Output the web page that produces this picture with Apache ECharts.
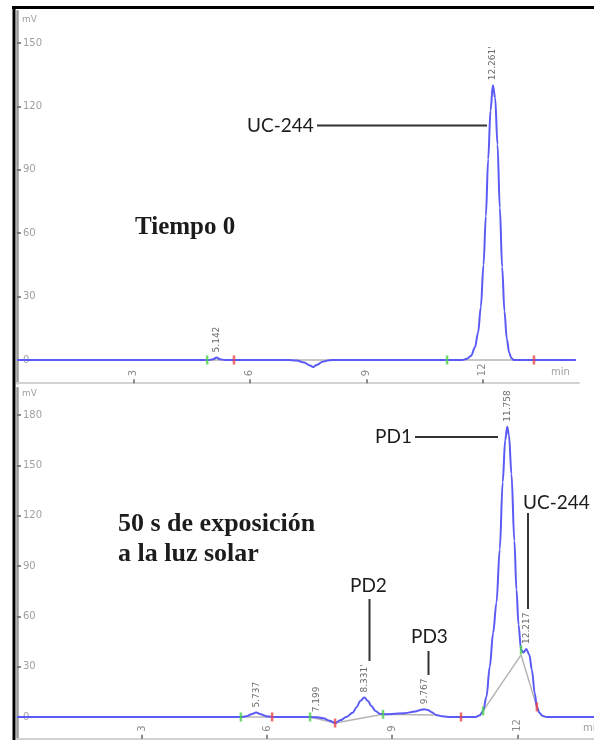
<!DOCTYPE html>
<html><head><meta charset="utf-8">
<script src="https://cdn.jsdelivr.net/npm/echarts@6/dist/echarts.min.js"></script>
<style>html,body{margin:0;padding:0;background:#fff}#c{width:594px;height:740px}</style>
</head><body><div id="c"></div>
<script>
// ---------- DATA (time in min, signal in mV) ----------
const topTrace = [
  [0,0],[4.95,0],[5.05,0.3],[5.142,1.2],[5.23,0.3],[5.35,0],
  [7.0,0],[7.2,-0.3],[7.4,-1.2],[7.55,-2.6],[7.63,-3.4],[7.72,-2.4],[7.88,-0.8],[8.05,-0.1],[8.2,0],
  [11.47,0],[11.6,0.6],[11.7,2],[11.8,6],[11.88,13],[11.95,25],[12.02,45],[12.08,68],[12.14,95],
  [12.2,118],[12.261,130],[12.32,124],[12.38,102],[12.44,72],[12.5,44],[12.56,23],[12.62,10],
  [12.68,3.5],[12.74,0.8],[12.8,0],[14.4,0]
];
const bottomTrace = [
  [0,0],[5.37,0],[5.5,0.4],[5.62,1.6],[5.737,2.6],[5.85,1.6],[5.97,0.5],[6.12,0],
  [7.03,0],[7.2,-0.2],[7.35,-0.8],[7.5,-2.2],[7.63,-3.6],[7.75,-2],[7.9,0],[8.05,2.5],[8.15,6],
  [8.23,9.5],[8.331,11.6],[8.42,9.5],[8.5,6.5],[8.6,3.5],[8.7,2],[8.78,1.6],
  [9.0,1.8],[9.3,2.3],[9.55,3.2],[9.7,4.3],[9.767,4.6],[9.85,4.2],[9.95,2.8],[10.05,1.2],[10.2,0.4],[10.4,0],
  [11.0,0],[11.1,1],[11.18,3.6],[11.26,12],[11.34,30],[11.42,50],[11.5,68],[11.58,100],[11.65,140],
  [11.71,165],[11.758,173],[11.8,168],[11.86,145],[11.93,105],[11.98,76],[12.03,55],[12.09,40],
  [12.15,38.5],[12.217,40.5],[12.29,37],[12.35,28],[12.42,14],[12.47,6],[12.53,2.5],[12.6,0.8],
  [12.7,0],[13.84,0]
];
const topPeakTimes = [5.142, 12.261];
const topPeakHeights = [1.2, 130];
const topPeakLabels = ['5.142', "12.261'"];
const bottomPeakTimes = [5.737, 7.199, 8.331, 9.767, 11.758, 12.217];
const bottomPeakHeights = [2.6, -0.2, 11.6, 4.6, 173, 40.5];
const bottomPeakLabels = ['5.737', '7.199', "8.331'", '9.767', '11.758', '12.217'];
const topStartMarks = [[4.9,0],[11.08,0]];
const topEndMarks = [[5.59,0],[13.32,0]];
const bottomStartMarks = [[5.37,0],[7.03,0],[8.78,1.6],[11.18,3.6],[12.09,40]];
const bottomEndMarks = [[6.12,0],[7.63,-3.6],[10.65,0],[12.47,6]];
const topBaselines = [
  [[4.9,0],[5.59,0]],
  [[7.0,0],[8.2,0]],
  [[11.08,0],[13.32,0]]
];
const bottomBaselines = [
  [[5.37,0],[6.12,0]],
  [[7.03,0],[7.63,-3.6],[8.78,1.6],[10.0,1.2]],
  [[11.18,3.6],[12.09,37],[12.47,6]]
];
const xTicks = [3, 6, 9, 12];
const topYTicks = [0, 30, 60, 90, 120, 150];
const bottomYTicks = [0, 30, 60, 90, 120, 150, 180];

// ---------- CHART ----------
const chart = echarts.init(document.getElementById('c'), null, {renderer:'canvas'});
const BLUE = '#5a5af5', GRAY = '#b4b4b4', GREEN = '#4ccf4c', RED = '#e84646';
const tickFont = {fontFamily:'DejaVu Sans', fontSize:10, color:'#a0a0a0'};

function xAx(idx, max) {
  return {
    type:'value', gridIndex:idx, min:0, max:max,
    axisLine:{show:true, onZero:false, lineStyle:{color:'#d2d2d2', width:2}},
    axisTick:{show:true, inside:true, length:4, customValues:xTicks, lineStyle:{color:'#666', width:1.5}},
    axisLabel:Object.assign({inside:true, customValues:xTicks, rotate:90, margin:7}, tickFont, {color:'#8a8a8a'}),
    splitLine:{show:false}
  };
}
function yAx(idx, min, max, ticks) {
  return {
    type:'value', gridIndex:idx, min:min, max:max,
    axisLine:{show:true, onZero:false, lineStyle:{color:'#9a9a9a', width:2.5}},
    axisTick:{show:true, inside:true, length:4, customValues:ticks, lineStyle:{color:'#666', width:1.5}},
    axisLabel:Object.assign({inside:true, customValues:ticks, margin:6}, tickFont),
    splitLine:{show:false}
  };
}
function traceSeries(idx, data) {
  return {type:'line', xAxisIndex:idx, yAxisIndex:idx, data:data, showSymbol:false, smooth:0.35,
    smoothMonotone:'x', lineStyle:{color:BLUE, width:2}, z:5, silent:true};
}
function baseSeries(idx, segs) {
  return segs.map(s => ({type:'line', xAxisIndex:idx, yAxisIndex:idx, data:s, showSymbol:false,
    lineStyle:{color:GRAY, width:1.5}, z:3, silent:true}));
}
function markSeries(idx, data, color) {
  return {type:'scatter', xAxisIndex:idx, yAxisIndex:idx, data:data, symbol:'rect',
    symbolSize:[2.5,9], itemStyle:{color:color}, z:7, silent:true};
}
function labelSeries(idx, times, heights, labels) {
  return {type:'scatter', xAxisIndex:idx, yAxisIndex:idx, symbolSize:0, z:8, silent:true,
    data: times.map((t,i) => ({value:[t, heights[i]], name:labels[i]})),
    label:{show:true, position:'top', distance:5, rotate:90, align:'left', verticalAlign:'middle',
      formatter:'{b}', fontFamily:'DejaVu Sans', fontSize:9, color:'#444'}};
}

const annFont = 'Lato';
const titleFont = 'Liberation Serif';
function txt(x, y, s, size, family, weight, align) {
  return {type:'text', x:x, y:y, z:20, style:{text:s, fontSize:size, fontFamily:family,
    fontWeight:weight||'normal', fill:'#1c1c1c', textAlign:align||'left', textVerticalAlign:'middle'}};
}
function seg(x1, y1, x2, y2, w, c) {
  return {type:'line', z:20, shape:{x1:x1, y1:y1, x2:x2, y2:y2}, style:{stroke:c||'#333', lineWidth:w||2}};
}

chart.setOption({
  animation:false,
  backgroundColor:'#fff',
  grid:[
    {left:17, top:11.3, width:562, height:371.9},
    {left:17, top:388.1, right:0, height:350.7}
  ],
  xAxis:[xAx(0, 14.48), xAx(1, 13.84)],
  yAxis:[yAx(0, -11, 165, topYTicks), yAx(1, -13, 196, bottomYTicks)],
  series:[].concat(
    baseSeries(0, topBaselines), baseSeries(1, bottomBaselines),
    [traceSeries(0, topTrace), traceSeries(1, bottomTrace),
     markSeries(0, topStartMarks, GREEN), markSeries(0, topEndMarks, RED),
     markSeries(1, bottomStartMarks, GREEN), markSeries(1, bottomEndMarks, RED),
     labelSeries(0, topPeakTimes, topPeakHeights, topPeakLabels),
     labelSeries(1, bottomPeakTimes, bottomPeakHeights, bottomPeakLabels)]
  ),
  graphic:[
    // frame
    seg(14, 6, 14, 740, 3, '#000'),
    seg(12, 7.5, 594, 7.5, 3, '#000'),
    // units
    {type:'text', x:22, y:20, z:20, style:{text:'mV', fontSize:9, fontFamily:'DejaVu Sans', fill:'#a0a0a0', textVerticalAlign:'middle'}},
    {type:'text', x:22, y:394, z:20, style:{text:'mV', fontSize:9, fontFamily:'DejaVu Sans', fill:'#a0a0a0', textVerticalAlign:'middle'}},
    {type:'text', x:551, y:372, z:20, style:{text:'min', fontSize:10, fontFamily:'DejaVu Sans', fill:'#a0a0a0', textVerticalAlign:'middle'}},
    {type:'text', x:583, y:728, z:20, style:{text:'min', fontSize:10, fontFamily:'DejaVu Sans', fill:'#a0a0a0', textVerticalAlign:'middle'}},
    // top annotations
    txt(247, 126, 'UC-244', 19, annFont),
    seg(317, 125.5, 487, 125.5, 2),
    txt(135, 228, 'Tiempo 0', 25, titleFont, 'bold'),
    // bottom annotations
    txt(118, 524, '50 s de exposición', 26, titleFont, 'bold'),
    txt(118, 554, 'a la luz solar', 26, titleFont, 'bold'),
    txt(412, 437, 'PD1', 19, annFont, 'normal', 'right'),
    seg(415, 437, 498, 437, 2),
    txt(523, 503, 'UC-244', 19, annFont),
    seg(528, 513, 528, 609, 2),
    txt(350, 586, 'PD2', 19, annFont),
    seg(369.5, 599, 369.5, 661, 2),
    txt(411, 637, 'PD3', 19, annFont),
    seg(428.5, 651, 428.5, 675, 2)
  ]
});
</script>
</body></html>
